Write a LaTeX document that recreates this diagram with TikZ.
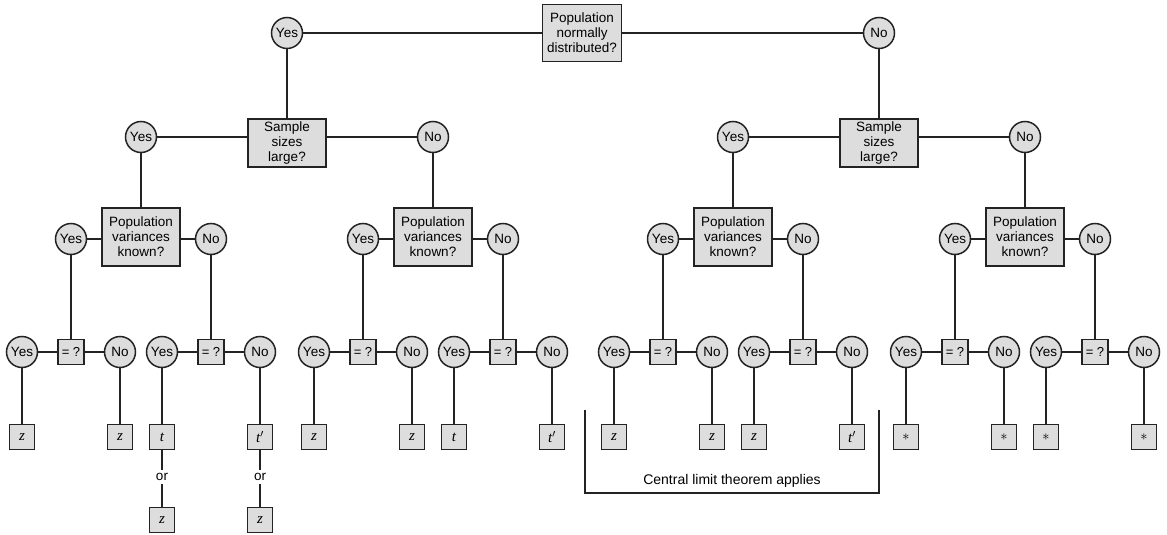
\documentclass[tikz,border=0pt]{standalone}
\usepackage{fontspec}
\setmainfont{Liberation Sans}
\newfontfamily\serifit{Liberation Serif}
\definecolor{boxfill}{RGB}{221,221,221}
\definecolor{linec}{RGB}{35,35,35}
\begin{document}
\begin{tikzpicture}[x=1pt,y=-1pt,
  base/.style={draw=linec, line width=1.5pt, fill=boxfill, inner sep=0pt, font=\fontsize{13.5}{15}\selectfont, align=center},
  qbox/.style={base, rectangle, minimum width=78pt},
  ans/.style={base, circle, minimum size=31pt},
  eqbox/.style={base, rectangle, minimum width=26pt, minimum height=25pt, font=\fontsize{13}{14}\selectfont},
  leaf/.style={base, rectangle, minimum size=25pt, font=\fontsize{15}{15}\serifit\itshape},
  conn/.style={draw=linec, line width=2.7pt},
  lbl/.style={inner sep=3pt, font=\fontsize{13.5}{15}\selectfont},
]
\useasboundingbox (0,0) rectangle (1167,535);

% level 1
\node[qbox, minimum height=57pt, minimum width=79pt] (top) at (582,33) {Population\\normally\\distributed?};
\node[ans] (ty) at (287,33) {Yes};
\node[ans] (tn) at (879,33) {No};
\draw[conn] (ty) -- (top) -- (tn);

% level 2
\node[qbox, minimum height=48pt] (s1) at (287,143) {Sample\\sizes\\large?};
\node[qbox, minimum height=48pt] (s2) at (879,143) {Sample\\sizes\\large?};
\draw[conn] (ty) -- (s1) (tn) -- (s2);
\node[ans] (py1x) at (141,137) {Yes};
\node[ans] (pn1x) at (433,137) {No};
\node[ans] (py2x) at (733,137) {Yes};
\node[ans] (pn2x) at (1025,137) {No};
\draw[conn] (py1x) -- (py1x -| s1.west) (pn1x) -- (pn1x -| s1.east);
\draw[conn] (py2x) -- (py2x -| s2.west) (pn2x) -- (pn2x -| s2.east);

% level 3 and 4
\foreach \i/\c/\pp in {1/141/py1x, 2/433/pn1x, 3/733/py2x, 4/1025/pn2x} {
  \node[qbox, minimum height=58pt] (pv\i) at (\c,237) {Population\\variances\\known?};
  \draw[conn] (\pp) -- (pv\i);
  \pgfmathsetmacro\xl{\c-70}
  \pgfmathsetmacro\xr{\c+70}
  \node[ans] (py\i) at (\xl,239) {Yes};
  \node[ans] (pn\i) at (\xr,239) {No};
  \draw[conn] (py\i) -- (py\i -| pv\i.west) (pn\i) -- (pn\i -| pv\i.east);
  \foreach \s/\d in {y/-70, n/70} {
    \pgfmathsetmacro\ex{\c+\d}
    \pgfmathsetmacro\exl{\c+\d-49}
    \pgfmathsetmacro\exr{\c+\d+49}
    \node[eqbox] (e\i\s) at (\ex,352) {= ?};
    \node[ans] (e\i\s Y) at (\exl,352) {Yes};
    \node[ans] (e\i\s N) at (\exr,352) {No};
    \draw[conn] (p\s\i) -- (e\i\s);
    \draw[conn] (e\i\s Y) -- (e\i\s) -- (e\i\s N);
  }
}

% leaves
\foreach \p/\lab [count=\k] in {e1yY/z, e1yN/z, e1nY/t, e1nN/t$'$, e2yY/z, e2yN/z, e2nY/t, e2nN/t$'$, e3yY/z, e3yN/z, e3nY/z, e3nN/t$'$, e4yY/{\normalfont$*$}, e4yN/{\normalfont$*$}, e4nY/{\normalfont$*$}, e4nN/{\normalfont$*$}} {
  \node[leaf] (l\k) at ([yshift=-85pt]\p.center) {\lab};
  \draw[conn] (\p) -- (l\k);
}

% "or z" under t and t'
\node[lbl] (or1) at ([yshift=-40pt]l3.center) {or};
\node[leaf] (z1) at ([yshift=-83pt]l3.center) {z};
\node[lbl] (or2) at ([yshift=-40pt]l4.center) {or};
\node[leaf] (z2) at ([yshift=-83pt]l4.center) {z};
\draw[conn] (l3) -- (or1) -- (z1);
\draw[conn] (l4) -- (or2) -- (z2);

% central limit bracket
\coordinate (bl) at (585,410);
\coordinate (br) at (879,410);
\coordinate (bb) at (732,493);
\draw[conn] (bl) |- (bb) -| (br);
\node[lbl, font=\fontsize{14}{15}\selectfont] (clt) at (732,481) {Central limit theorem applies};
\end{tikzpicture}
\end{document}
